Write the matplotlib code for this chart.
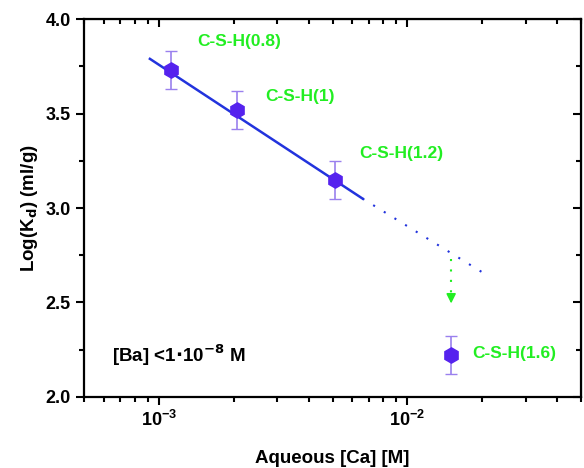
import matplotlib
matplotlib.use("Agg")
import matplotlib.pyplot as plt

plt.rcParams['font.family'] = ['Liberation Sans', 'DejaVu Sans']
plt.rcParams['font.weight'] = 'bold'
plt.rcParams['mathtext.default'] = 'bf'

# dados
ca = [1.12e-3, 2.06e-3, 5.1e-3, 1.5e-2]
logkd = [3.73, 3.52, 3.15, 2.22]
erro = [0.10, 0.10, 0.10, 0.10]
rotulos = ['C-S-H(0.8)', 'C-S-H(1)', 'C-S-H(1.2)', 'C-S-H(1.6)']
rot_x = [1.43e-3, 2.67e-3, 6.4e-3, 1.83e-2]
rot_y = [3.88, 3.59, 3.29, 2.23]

# reta de ajuste (solida) e extrapolacao (pontilhada)
ajuste_x = [9.2e-4, 6.6e-3]
ajuste_y = [3.79, 3.05]
extrap_x = [6.6e-3, 2.0e-2]
extrap_y = [3.05, 2.66]

azul = '#2233dd'
roxo = '#5522ee'
verde = '#22ee22'

fig = plt.figure(figsize=(5.84, 4.68), dpi=100)
ax = fig.add_axes([0.144, 0.152, 0.851, 0.807])

ax.plot(ajuste_x, ajuste_y, color=azul, lw=1.8)
ax.plot(extrap_x, extrap_y, color=azul, lw=1.5, linestyle=(0, (1, 5)))
ax.errorbar(ca, logkd, yerr=erro, fmt='h', color=roxo, ms=11,
            ecolor='#9a80ee', elinewidth=1.2, capsize=4, zorder=5)

for x, y, t in zip(rot_x, rot_y, rotulos):
    ax.text(x, y, t, color=verde, fontsize=12.5, fontweight='bold', va='center')

# seta verde pontilhada
ax.plot([1.5e-2, 1.5e-2], [2.73, 2.55], color=verde, lw=1.5, linestyle=(0, (1, 4)))
ax.annotate('', xy=(1.5e-2, 2.48), xytext=(1.5e-2, 2.55),
            arrowprops=dict(arrowstyle='-|>', color=verde, lw=1.2, mutation_scale=14))

ax.text(6.5e-4, 2.22, r'[Ba] <1$\cdot$10$^{-8}$ M', fontsize=13.5, fontweight='bold', va='center')

ax.set_xscale('log')
ax.set_xlim(5e-4, 5e-2)
ax.set_ylim(2.0, 4.0)
ax.set_yticks([2.0, 2.5, 3.0, 3.5, 4.0])
ax.set_yticks([2.25, 2.75, 3.25, 3.75], minor=True)
ax.tick_params(which='both', direction='out', labelsize=13, width=1.5)
ax.tick_params(which='major', length=6)
ax.tick_params(which='minor', length=3.5)
ax.set_xlabel('Aqueous [Ca] [M]', fontsize=13.5, fontweight='bold', labelpad=14)
ax.set_ylabel(r'Log(K$_d$) (ml/g)', fontsize=13.5, fontweight='bold')
for s in ax.spines.values():
    s.set_linewidth(1.6)

topo = ax.secondary_xaxis('top')
topo.tick_params(which='both', direction='in', labeltop=False, width=1.5)
topo.tick_params(which='major', length=6)
topo.tick_params(which='minor', length=3.5)
dir_ = ax.secondary_yaxis('right')
dir_.set_yticks([2.0, 2.5, 3.0, 3.5, 4.0])
dir_.set_yticks([2.25, 2.75, 3.25, 3.75], minor=True)
dir_.tick_params(which='both', direction='in', labelright=False, width=1.5)
dir_.tick_params(which='major', length=6)
dir_.tick_params(which='minor', length=3.5)

fig.savefig('out.png', dpi=100)
